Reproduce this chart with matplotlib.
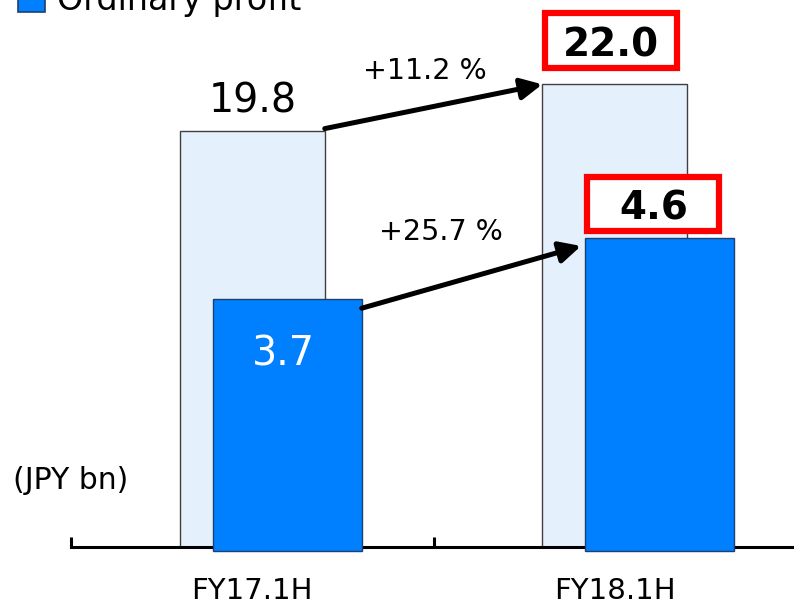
# Gráfico de barras: ventas (fondo) y beneficio ordinario (delante)
import matplotlib.pyplot as plt
from matplotlib.path import Path
from matplotlib.patches import Rectangle
from matplotlib.transforms import offset_copy
import numpy as np

# Datos
periods = ["FY17.1H", "FY18.1H"]
sales = [19.8, 22.0]
ordinary_profit = [3.7, 4.6]
sales_growth = "+11.2 %"
profit_growth = "+25.7 %"
legend_label = "Ordinary profit"
unit_label = "(JPY bn)"

LIGHT = "#E5F0FD"
BLUE = "#0080FF"
RED = "#FF0000"

plt.rcParams["font.family"] = ["DejaVu Sans"]


# Caja de tamaño fijo para los valores destacados (recuadro rojo)
def fixed_box(x0, y0, width, height, mutation_size):
    cx = x0 + width / 2
    cy = y0 + height / 2 + 0.135 * mutation_size
    w = 3.39 * mutation_size
    h = 1.39 * mutation_size
    verts = [(cx - w / 2, cy - h / 2), (cx + w / 2, cy - h / 2),
             (cx + w / 2, cy + h / 2), (cx - w / 2, cy + h / 2),
             (cx - w / 2, cy - h / 2)]
    return Path(verts, closed=True)


fig = plt.figure(figsize=(7.94, 6.01), dpi=100)
ax = fig.add_axes([71 / 794, 54 / 601, 725 / 794, 547 / 601])
ax2 = ax.twinx()

x = np.arange(len(periods))
bg_width = 0.4
fg_width = 0.41
fg_shift = np.array([0.097, 0.123])

# Barras de fondo (ventas)
ax.bar(x, sales, width=bg_width, color=LIGHT, edgecolor="#404040",
       linewidth=1, zorder=1)
ax.set_xlim(-0.5, 1.5)
ax.set_ylim(0, 547 / 21.03)

# Barras delanteras (beneficio ordinario) en el eje secundario
ax2.bar(x + fg_shift, ordinary_profit, width=fg_width, color=BLUE,
        edgecolor="#1F3F6F", linewidth=1, clip_on=False, zorder=1)
ax2.set_ylim(4 / 68.05, 551 / 68.05)

# Ejes: solo la línea inferior
for a in (ax, ax2):
    for side in ("top", "left", "right"):
        a.spines[side].set_visible(False)
ax2.spines["bottom"].set_visible(False)
ax.spines["bottom"].set_linewidth(2.2)
ax.set_yticks([])
ax2.set_yticks([])
ax.set_xticks(x)
ax.set_xticklabels(periods, fontsize=21)
ax.tick_params(axis="x", which="major", length=0, pad=21.8)
ax.set_xticks([-0.5, 0.5, 1.5], minor=True)
ax.tick_params(axis="x", which="minor", direction="in", length=7,
               width=2.2)

# Etiquetas de valores
ax.annotate(f"{sales[0]:.1f}", xy=(x[0], sales[0]), xytext=(0, 17.7),
            textcoords="offset pixels", ha="center", va="baseline",
            fontsize=28.5)
ax2.annotate(f"{sales[1]:.1f}", xy=(x[1], sales[1]),
             xycoords=ax.transData, xytext=(-3.5, 27.6),
             textcoords="offset pixels", ha="center", va="baseline",
             fontsize=28, fontweight="bold",
             bbox=dict(boxstyle=fixed_box, facecolor="white",
                       edgecolor=RED, linewidth=4.5, joinstyle="miter"))
ax2.annotate(f"{ordinary_profit[0]:.1f}",
             xy=(x[0] + fg_shift[0], ordinary_profit[0]), xytext=(-4, -66),
             textcoords="offset pixels", ha="center", va="baseline",
             fontsize=28.5, color="white")
ax2.annotate(f"{ordinary_profit[1]:.1f}",
             xy=(x[1] + fg_shift[1], ordinary_profit[1]), xytext=(-6, 18),
             textcoords="offset pixels", ha="center", va="baseline",
             fontsize=28, fontweight="bold",
             bbox=dict(boxstyle=fixed_box, facecolor="white",
                       edgecolor=RED, linewidth=4.5, joinstyle="miter"))

# Flechas de crecimiento
arrow = dict(arrowstyle="-|>,head_length=0.4,head_width=0.2",
             color="black", lw=3.6, mutation_scale=32,
             shrinkA=0, shrinkB=0)
ax.annotate("", xy=(x[1] - bg_width / 2, sales[1]),
            xytext=(x[0] + bg_width / 2, sales[0]),
            xycoords=offset_copy(ax.transData, fig=fig, y=0, units="dots"),
            textcoords=offset_copy(ax.transData, fig=fig, y=2, units="dots"),
            arrowprops=arrow)
low = offset_copy(ax2.transData, fig=fig, x=-4, y=-8, units="dots")
low_start = offset_copy(ax2.transData, fig=fig, x=0, y=-9, units="dots")
ax2.annotate("", xy=(x[1] + fg_shift[1] - fg_width / 2, ordinary_profit[1]),
             xytext=(x[0] + fg_shift[0] + fg_width / 2, ordinary_profit[0]),
             xycoords=low, textcoords=low_start, arrowprops=arrow)

ax.text(0.477, 22.24, sales_growth, ha="center", va="baseline",
        fontsize=20.5)
ax2.text(0.521, 4.57, profit_growth, ha="center", va="baseline",
         fontsize=20.5)

# Unidad y leyenda (recortada en el borde superior)
fig.text(13 / 794, (601 - 489) / 601, unit_label, fontsize=21.5,
         va="baseline")
fig.add_artist(Rectangle((18 / 794, (601 - 12) / 601), 27 / 794, 27 / 601,
                         transform=fig.transFigure, facecolor=BLUE,
                         edgecolor="#1F3F6F", linewidth=1.2))
fig.text(57 / 794, (601 - 10) / 601, legend_label, fontsize=24,
         va="baseline")

fig.savefig("out.png", dpi=100)
plt.close(fig)
